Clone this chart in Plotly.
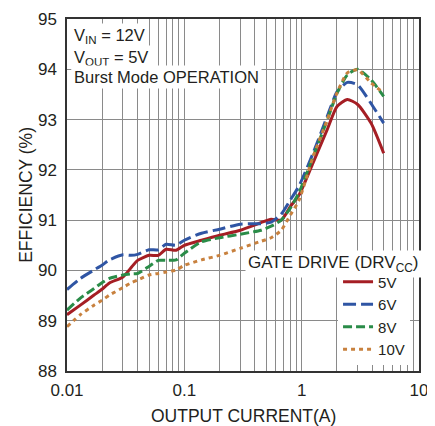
import plotly.graph_objects as go

# Output current (A)
current = [0.01, 0.013, 0.017, 0.02, 0.023, 0.03, 0.035, 0.04, 0.05, 0.06, 0.07, 0.085,
           0.1, 0.14, 0.2, 0.3, 0.45, 0.55, 0.67, 0.8, 0.95, 1.25, 1.65, 2.0, 2.45, 3.0, 3.9, 5.0]

# Efficiency (%) per gate drive voltage
eff_5v = [89.12, 89.31, 89.51, 89.63, 89.75, 89.87, 90.05, 90.2, 90.3, 90.3, 90.42, 90.4,
          90.5, 90.6, 90.7, 90.8, 90.95, 91.02, 91.0, 91.27, 91.5, 92.14, 92.8, 93.26, 93.4, 93.3, 92.93, 92.33]
eff_6v = [89.62, 89.84, 90.01, 90.11, 90.21, 90.31, 90.3, 90.32, 90.41, 90.41, 90.52, 90.5,
          90.6, 90.74, 90.82, 90.92, 90.93, 90.96, 91.12, 91.4, 91.68, 92.33, 93.06, 93.55, 93.74, 93.69, 93.32, 92.93]
eff_8v = [89.21, 89.45, 89.64, 89.76, 89.84, 89.91, 89.93, 89.94, 90.08, 90.2, 90.2, 90.21,
          90.34, 90.57, 90.65, 90.72, 90.8, 90.88, 91.0, 91.24, 91.55, 92.26, 92.99, 93.52, 93.89, 94.0, 93.79, 93.46]
eff_10v = [88.88, 89.12, 89.31, 89.41, 89.51, 89.66, 89.75, 89.81, 89.91, 89.94, 89.97, 90.01,
           90.1, 90.21, 90.3, 90.44, 90.58, 90.65, 90.8, 91.1, 91.4, 92.26, 92.99, 93.53, 93.93, 93.99, 93.73, 93.53]

series_names = ["5V", "6V", "8V", "10V"]
series_values = [eff_5v, eff_6v, eff_8v, eff_10v]

# Tick values / labels
x_tickvals = [0.01, 0.1, 1, 10]
x_ticktext = ["0.01", "0.1", "1", "10"]
x_minorvals = [m * 10.0 ** e for e in (-2, -1, 0) for m in range(2, 10)]
y_tickvals = [88, 89, 90, 91, 92, 93, 94, 95]

colors = ["#a51e24", "#2f55a4", "#2a8c48", "#c8813e"]
dashes = ["solid", "13px,5px", "9px,4px", "4px,4px"]

FONT = "Liberation Sans Narrow, Arial Narrow, Liberation Sans, Arial, sans-serif"

fig = go.Figure()
for name, vals, c, d in zip(series_names, series_values, colors, dashes):
    fig.add_trace(go.Scatter(
        x=current, y=vals, name=name, mode="lines",
        line=dict(color=c, width=3, dash=d, shape="spline", smoothing=0.6),
    ))

grid = "#8a8a8a"
# page has an 8px body margin, so the figure is sized/offset to compensate
fig.update_layout(
    width=427, height=418, autosize=False,
    margin=dict(l=59, r=16, t=11, b=55),
    paper_bgcolor="white", plot_bgcolor="white",
    font=dict(family=FONT, size=17, color="#231f20"),
    xaxis=dict(
        type="log", range=[-2, 1], automargin=False,
        tickmode="array", tickvals=x_tickvals, ticktext=x_ticktext,
        minor=dict(tickmode="array", tickvals=x_minorvals, showgrid=True,
                   gridcolor=grid, gridwidth=1, ticks=""),
        showgrid=True, gridcolor=grid, gridwidth=1,
        showline=True, linecolor="#333333", linewidth=1.5, mirror=True,
        ticks="", zeroline=False, ticklabelstandoff=3,
    ),
    yaxis=dict(
        range=[88, 95], tickvals=y_tickvals, automargin=False,
        showgrid=True, gridcolor=grid, gridwidth=1,
        showline=True, linecolor="#333333", linewidth=1.5, mirror=True,
        ticks="", zeroline=False, ticklabelstandoff=5,
    ),
    legend=dict(
        x=0.77, y=0.30, xanchor="left", yanchor="top",
        bgcolor="white", borderwidth=0, font=dict(size=15),
        tracegroupgap=0,
    ),
    showlegend=True,
)

# axis titles
fig.add_annotation(text="EFFICIENCY (%)", xref="paper", yref="paper", x=-0.117, y=0.5,
                   xanchor="center", yanchor="middle", textangle=-90, showarrow=False,
                   font=dict(size=17.5))
fig.add_annotation(text="OUTPUT CURRENT(A)", xref="paper", yref="paper", x=0.5, y=-0.128,
                   xanchor="center", yanchor="middle", showarrow=False,
                   font=dict(size=17.5))

ann_common = dict(xref="paper", yref="paper", showarrow=False, xanchor="left",
                  bgcolor="white", borderpad=2)
fig.add_annotation(text="GATE DRIVE (DRV<sub>CC</sub>)", x=0.505, y=0.305, yanchor="middle",
                   font=dict(size=17), **ann_common)
fig.add_annotation(text="V<sub>IN</sub> = 12V", x=0.01, y=0.952, yanchor="middle",
                   font=dict(size=16.5), **ann_common)
fig.add_annotation(text="V<sub>OUT</sub> = 5V", x=0.01, y=0.889, yanchor="middle",
                   font=dict(size=16.5), **ann_common)
fig.add_annotation(text="Burst Mode OPERATION", x=0.01, y=0.834, yanchor="middle",
                   font=dict(size=16.5), **ann_common)

fig.write_html("out.html")
